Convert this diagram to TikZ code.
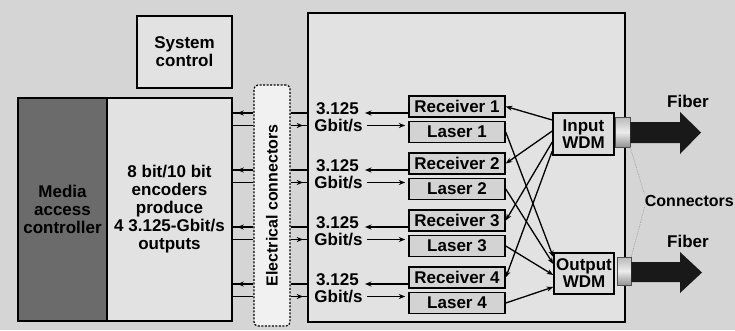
\documentclass[tikz,border=0pt]{standalone}
\usepackage{fontspec}
\setmainfont{Liberation Sans}
\usetikzlibrary{arrows.meta,decorations.markings,calc}
\definecolor{bgcol}{HTML}{D5D5D5}
\definecolor{boxcol}{HTML}{E2E2E2}
\definecolor{maccol}{HTML}{6B6B6B}
\definecolor{eccol}{HTML}{F1F1F1}
\definecolor{rxcol}{HTML}{D3D3D3}
\definecolor{wdmcol}{HTML}{DDDDDD}
\begin{document}
\begin{tikzpicture}[x=1pt,y=-1pt,
  txt/.style={font=\fontsize{17}{18}\selectfont\bfseries, align=center},
  blk/.style={draw=black, line width=1.4pt, inner sep=0pt, txt},
  unitbox/.style={draw=black, line width=1.5pt, fill=rxcol, inner sep=0pt,
    minimum width=96pt, minimum height=21pt, txt},
  wdmbox/.style={draw=black, line width=1.5pt, fill=wdmcol, inner sep=0pt,
    minimum width=61pt, minimum height=42pt, txt, font=\fontsize{17}{17}\selectfont\bfseries},
  wire/.style={line width=1.3pt},
  tip/.style={-{Stealth[length=6.5pt,width=5pt]}, line width=1.3pt},
  midtip/.style={line width=1.3pt, decoration={markings,
      mark=at position #1 with {\arrow{Stealth[length=6.5pt,width=5pt]}}},
      postaction={decorate}},
  cyl/.style={draw=black!70, line width=0.6pt, inner sep=0pt,
    top color=gray!55, bottom color=gray!85, middle color=gray!15},
  connline/.style={gray!70, line width=0.6pt, dash pattern=on 1.5pt off 1pt},
  fiber/.style={fill=black!90}
]
\useasboundingbox (0,0) rectangle (735,330);
\fill[bgcol] (0,0) rectangle (735,330);

% left blocks
\node[blk, fill=boxcol, minimum width=95pt, minimum height=72pt] (sys) at (184.5,52) {System\\control};
\node[blk, fill=maccol, minimum width=89pt, minimum height=223pt] (mac) at (62.5,209.5) {Media\\access\\controller};
\node[blk, fill=boxcol, minimum width=125pt, minimum height=223pt] (enc) at (169.5,209.5) {8 bit/10 bit\\encoders\\produce\\4 3.125-Gbit/s\\outputs};

% electrical connectors
\node[draw=black, line width=1.2pt, dash pattern=on 2pt off 1.5pt, rounded corners=4pt,
  fill=eccol, minimum width=36pt, minimum height=241pt] (ec) at (272,205.5) {};
\node[txt, font=\fontsize{16}{18}\selectfont\bfseries, rotate=90] (ectext) at (ec.center) {Electrical connectors};

% right block
\node[blk, fill=boxcol, minimum width=317pt, minimum height=309pt] (rb) at (466.5,167.5) {};

% WDMs
\node[wdmbox] (iw) at (583.5,134) {Input\\WDM};
\node[wdmbox, minimum width=60pt, minimum height=41pt] (ow) at (584,273.5) {Output\\WDM};

\foreach \k in {1,2,3,4}{
  \pgfmathsetmacro{\ry}{106.5+57*(\k-1)}
  \pgfmathsetmacro{\ly}{\ry+25.5}
  \node[unitbox] (R\k) at (457,\ry) {Receiver \k};
  \node[unitbox] (L\k) at (457,\ly) {Laser \k};
  \coordinate (wa\k) at (0,\ry+6.5);
  \coordinate (wb\k) at (0,\ly-6.5);
  \node[txt, inner sep=0pt] (n\k) at (337.5,\ry+2) {3.125};
  \node[txt, inner sep=0pt] (g\k) at (338.5,\ly-6) {Gbit/s};
  % arrows inside the transceiver block
  \draw[tip] (R\k.west |- wa\k) -- ($(n\k.east |- wa\k)+(6,0)$);
  \draw[tip, shorten >=3pt] ($(g\k.east |- wb\k)+(4,0)$) -- (L\k.west |- wb\k);
  % wires between encoder, connectors and transceiver block
  \draw[midtip=0.78] (ec.west |- wa\k) -- (enc.east |- wa\k);
  \draw[wire] (ec.west |- wb\k) -- (enc.east |- wb\k);
  \draw[wire] (ec.east |- wa\k) -- (rb.west |- wa\k);
  \draw[midtip=0.75] (ec.east |- wb\k) -- (rb.west |- wb\k);
}

% crossing connections
\draw[tip] (iw.west |- 0,120) -- (R1.east);
\draw[tip] (iw.west |- 0,131) -- (R2.east);
\draw[tip] (iw.west |- 0,142) -- (R3.east);
\draw[tip] (iw.west |- 0,151) -- (R4.east);
\draw[tip] (L1.east) -- (ow.west |- 0,257);
\draw[tip] (L2.east) -- (ow.west |- 0,264);
\draw[tip] (L3.east) -- (ow.west |- 0,275);
\draw[tip] (L4.east) -- (ow.west |- 0,287);

% optical connectors and fibers
\node[cyl, minimum width=15pt, minimum height=30pt] (c1) at (622.5,132) {};
\node[cyl, minimum width=14pt, minimum height=28pt] (c2) at (624,271) {};
\fill[fiber] (c1.east |- 0,122) -- (680,122) -- (680,112) -- (701,132.5) -- (680,154) -- (680,143) -- (c1.east |- 0,143) -- cycle;
\fill[fiber] (c2.east |- 0,262) -- (680,262) -- (680,252) -- (702,272.5) -- (680,293) -- (680,282) -- (c2.east |- 0,282) -- cycle;

\node[txt, inner sep=0pt] (f1) at (688,101) {Fiber};
\node[txt, inner sep=0pt] (f2) at (688,241) {Fiber};
\node[txt, font=\fontsize{16}{18}\selectfont\bfseries, inner sep=0pt, anchor=east] (conn) at (734,201) {Connectors};
\draw[connline] (c1.south east) -- (conn.north west);
\draw[connline] (c2.north east) -- (conn.south west);
\end{tikzpicture}
\end{document}
